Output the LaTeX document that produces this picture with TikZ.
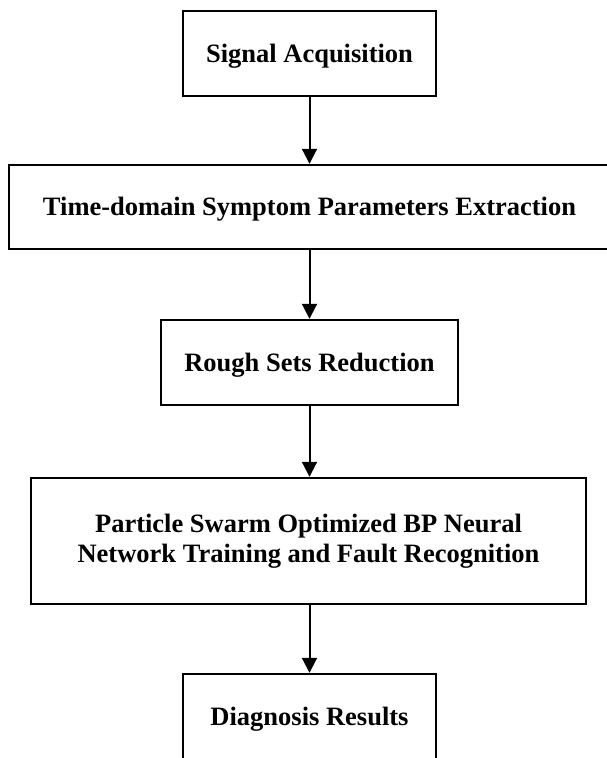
\documentclass[tikz,border=0pt]{standalone}
\usepackage{fontspec}
\setmainfont{Liberation Serif}
\usetikzlibrary{arrows.meta}
\begin{document}
\begin{tikzpicture}[x=1pt,y=1pt,
  box/.style={draw, line width=2.4pt, rectangle, inner sep=0pt, align=center,
    font=\fontsize{26.5}{30}\selectfont\bfseries},
  onebox/.style={box, text height=17.5pt, text depth=0pt},
  arr/.style={line width=2pt, -{Triangle[length=15pt,width=15pt]}}]
\useasboundingbox (0,0) rectangle (606,-758);
\node[onebox, minimum width=253pt, minimum height=85pt] (b1) at (309.5,-53.5) {Signal Acquisition};
\node[onebox, minimum width=601pt, minimum height=84pt] (b2) at (309.5,-207) {Time-domain Symptom Parameters Extraction};
\node[onebox, minimum width=297pt, minimum height=85pt] (b3) at (309.5,-362.5) {Rough Sets Reduction};
\node[box, minimum width=555pt, minimum height=126pt] (b4) at (308.5,-541) {Particle Swarm Optimized BP Neural\\Network Training and Fault Recognition};
\node[onebox, minimum width=253pt, minimum height=85pt] (b5) at (309.5,-716.5) {Diagnosis Results};
\draw[arr] (b1.south) -- (b1.south |- b2.north);
\draw[arr] (b1.south |- b2.south) -- (b1.south |- b3.north);
\draw[arr] (b3.south) -- (b3.south |- b4.north);
\draw[arr] (b3.south |- b4.south) -- (b5.north);
\end{tikzpicture}
\end{document}
